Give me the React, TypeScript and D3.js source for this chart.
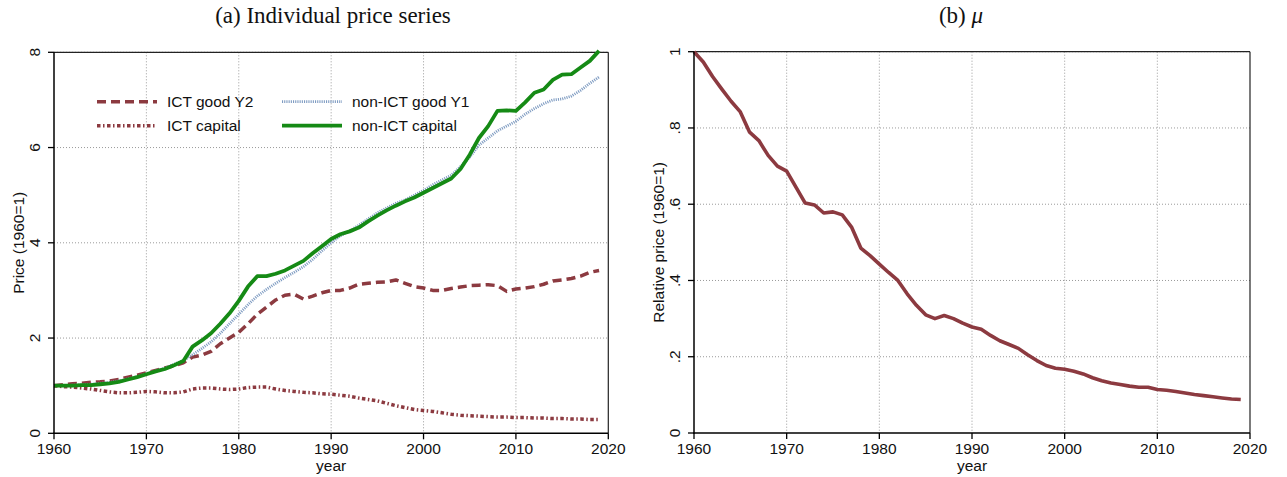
import React from 'react';
import { scaleLinear, line, range } from 'd3';

const years = range(1960, 2020);

const ictGoodY2 = [
  1.00, 1.02, 1.04, 1.05, 1.07, 1.08, 1.10, 1.13, 1.18, 1.22,
  1.27, 1.32, 1.37, 1.42, 1.48, 1.60, 1.64, 1.72, 1.88, 2.00,
  2.12, 2.30, 2.50, 2.65, 2.80, 2.90, 2.92, 2.82, 2.88, 2.95,
  3.00, 3.00, 3.05, 3.13, 3.15, 3.17, 3.18, 3.22, 3.15, 3.08,
  3.05, 3.00, 3.00, 3.04, 3.07, 3.10, 3.11, 3.12, 3.10, 2.98,
  3.03, 3.05, 3.08, 3.13, 3.20, 3.22, 3.25, 3.30, 3.38, 3.42,
];

const ictCapital = [
  1.00, 0.98, 0.97, 0.95, 0.93, 0.90, 0.87, 0.85, 0.85, 0.86,
  0.88, 0.87, 0.85, 0.85, 0.87, 0.93, 0.95, 0.95, 0.93, 0.92,
  0.93, 0.96, 0.97, 0.97, 0.93, 0.90, 0.88, 0.86, 0.85, 0.83,
  0.82, 0.80, 0.78, 0.74, 0.71, 0.68, 0.63, 0.58, 0.54, 0.50,
  0.48, 0.46, 0.43, 0.40, 0.38, 0.37, 0.36, 0.35, 0.34, 0.34,
  0.33, 0.33, 0.32, 0.32, 0.31, 0.31, 0.30, 0.30, 0.29, 0.29,
];

const nonIctGoodY1 = [
  1.00, 1.00, 1.01, 1.02, 1.03, 1.05, 1.07, 1.10, 1.14, 1.19,
  1.25, 1.31, 1.37, 1.45, 1.53, 1.65, 1.78, 1.92, 2.10, 2.30,
  2.50, 2.70, 2.88, 3.02, 3.15, 3.27, 3.38, 3.50, 3.65, 3.83,
  4.00, 4.15, 4.25, 4.37, 4.50, 4.63, 4.73, 4.83, 4.90, 5.00,
  5.10, 5.22, 5.32, 5.42, 5.60, 5.80, 6.05, 6.20, 6.35, 6.45,
  6.55, 6.70, 6.82, 6.92, 7.00, 7.02, 7.08, 7.20, 7.35, 7.48,
];

const nonIctCapital = [
  1.00, 1.00, 1.00, 1.01, 1.01, 1.03, 1.05, 1.08, 1.13, 1.18,
  1.24, 1.30, 1.35, 1.43, 1.52, 1.82, 1.95, 2.10, 2.30, 2.52,
  2.78, 3.08, 3.30, 3.30, 3.35, 3.42, 3.52, 3.62, 3.78, 3.93,
  4.08, 4.18, 4.24, 4.32, 4.45, 4.57, 4.68, 4.78, 4.87, 4.95,
  5.05, 5.15, 5.25, 5.35, 5.55, 5.85, 6.20, 6.45, 6.77, 6.78,
  6.77, 6.95, 7.15, 7.22, 7.42, 7.53, 7.54, 7.68, 7.82, 8.03,
];

const mu = [
  1.000, 0.973, 0.935, 0.902, 0.870, 0.842, 0.789, 0.767, 0.728, 0.700,
  0.687, 0.645, 0.603, 0.598, 0.577, 0.580, 0.572, 0.540, 0.485, 0.465,
  0.443, 0.421, 0.400, 0.365, 0.335, 0.310, 0.300, 0.308, 0.300, 0.288,
  0.278, 0.272, 0.256, 0.242, 0.232, 0.222, 0.205, 0.190, 0.177, 0.170,
  0.167, 0.162, 0.155, 0.145, 0.137, 0.131, 0.127, 0.123, 0.120, 0.120,
  0.114, 0.112, 0.109, 0.105, 0.101, 0.098, 0.095, 0.092, 0.089, 0.088,
];

const xTicks = [1960, 1970, 1980, 1990, 2000, 2010, 2020];
const leftTicks = [0, 2, 4, 6, 8];
const leftTickLabels = ['0', '2', '4', '6', '8'];
const rightTicks = [0, 0.2, 0.4, 0.6, 0.8, 1];
const rightTickLabels = ['0', '.2', '.4', '.6', '.8', '1'];

const MAROON = '#8c3a40';
const GREEN = '#158a15';
const LTBLUE = '#7f9cc2';
const SANS = '"Liberation Sans", Arial, sans-serif';
const SERIF = '"Liberation Serif", "Times New Roman", serif';

type Series = { name: string; values: number[]; color: string; width: number; dash?: string };

const leftSeries: Series[] = [
  { name: 'ICT good Y2', values: ictGoodY2, color: MAROON, width: 3.5, dash: '9 5' },
  { name: 'non-ICT good Y1', values: nonIctGoodY1, color: LTBLUE, width: 2.8, dash: '1.1 1.1' },
  { name: 'ICT capital', values: ictCapital, color: MAROON, width: 3.5, dash: '3.5 2.5 1.5 2.5' },
  { name: 'non-ICT capital', values: nonIctCapital, color: GREEN, width: 3.8 },
];

const legendOrder = [
  { s: 0, col: 0, row: 0 },
  { s: 1, col: 1, row: 0 },
  { s: 2, col: 0, row: 1 },
  { s: 3, col: 1, row: 1 },
];

interface PanelProps {
  x0: number; x1: number; y0: number; y1: number;
  yMax: number; yTicks: number[]; yTickLabels: string[];
  yTitle: string; yTitleX: number;
  children: (x: (v: number) => number, y: (v: number) => number) => React.ReactNode;
}

const Panel: React.FC<PanelProps> = ({ x0, x1, y0, y1, yMax, yTicks, yTickLabels, yTitle, yTitleX, children }) => {
  const x = scaleLinear().domain([1960, 2020]).range([x0, x1]);
  const y = scaleLinear().domain([0, yMax]).range([y1, y0]);
  const midY = (y0 + y1) / 2;
  return (
    <g>
      {/* grid */}
      {xTicks.slice(1, -1).map(t => (
        <line key={'gx' + t} x1={x(t)} x2={x(t)} y1={y0} y2={y1} stroke="#9a9a9a" strokeWidth={1} strokeDasharray="1 2" />
      ))}
      {yTicks.slice(1).map(t => (
        <line key={'gy' + t} x1={x0} x2={x1} y1={y(t)} y2={y(t)} stroke="#9a9a9a" strokeWidth={1} strokeDasharray="1 2" />
      ))}
      {/* frame */}
      <line x1={x0} x2={x1} y1={y0} y2={y0} stroke="#222" strokeWidth={1.2} />
      <line x1={x1} x2={x1} y1={y0} y2={y1} stroke="#222" strokeWidth={1.2} />
      <g>{children(x, y)}</g>
      {/* axes */}
      <line x1={x0} x2={x0} y1={y0} y2={y1 + 0.7} stroke="#000" strokeWidth={1.5} />
      <line x1={x0 - 0.7} x2={x1} y1={y1} y2={y1} stroke="#000" strokeWidth={1.5} />
      {xTicks.map(t => (
        <g key={'tx' + t}>
          <line x1={x(t)} x2={x(t)} y1={y1} y2={y1 + 6} stroke="#000" strokeWidth={1.3} />
          <text x={x(t)} y={454} textAnchor="middle" fontFamily={SANS} fontSize={15.5} fill="#111">{t}</text>
        </g>
      ))}
      {yTicks.map((t, i) => (
        <g key={'ty' + t}>
          <line x1={x0 - 6} x2={x0} y1={y(t)} y2={y(t)} stroke="#000" strokeWidth={1.3} />
          <text transform={`translate(${x0 - 14.5},${y(t)}) rotate(-90)`} textAnchor="middle"
            fontFamily={SANS} fontSize={15.5} fill="#111">{yTickLabels[i]}</text>
        </g>
      ))}
      <text x={(x0 + x1) / 2} y={471} textAnchor="middle" fontFamily={SANS} fontSize={15.5} fill="#111">year</text>
      <text transform={`translate(${yTitleX},${midY}) rotate(-90)`} textAnchor="middle"
        fontFamily={SANS} fontSize={15.5} fill="#111">{yTitle}</text>
    </g>
  );
};

export default function App() {
  return (
    <svg width={1287} height={477} style={{ position: 'absolute', left: 0, top: 0, background: '#fff' }}>
      <rect width={1287} height={477} fill="#fff" />
      <text x={333} y={23} textAnchor="middle" fontFamily={SERIF} fontSize={23} fill="#111">(a) Individual price series</text>
      <text x={961} y={23} textAnchor="middle" fontFamily={SERIF} fontSize={23} fill="#111">
        (b) <tspan fontStyle="italic">μ</tspan>
      </text>

      <Panel x0={54} x1={608.3} y0={52.3} y1={433.3} yMax={8} yTicks={leftTicks} yTickLabels={leftTickLabels}
        yTitle="Price (1960=1)" yTitleX={24}>
        {(x, y) => {
          const gen = line<number>().x((_, i) => x(years[i])).y(d => y(d));
          return (
            <g>
              {leftSeries.map(s => (
                <path key={s.name} d={gen(s.values) ?? ''} fill="none" stroke={s.color} strokeWidth={s.width}
                  strokeDasharray={s.dash} strokeLinejoin="round" />
              ))}
              {legendOrder.map(({ s, col, row }) => {
                const ser = leftSeries[s];
                const lx = col === 0 ? 97 : 282;
                const ly = row === 0 ? 101.7 : 125.7;
                return (
                  <g key={'lg' + ser.name}>
                    <line x1={lx} x2={lx + 60} y1={ly} y2={ly} stroke={ser.color} strokeWidth={ser.width}
                      strokeDasharray={ser.dash} />
                    <text x={lx + 70} y={ly + 5.5} fontFamily={SANS} fontSize={15.5} fill="#111">{ser.name}</text>
                  </g>
                );
              })}
            </g>
          );
        }}
      </Panel>

      <Panel x0={694} x1={1250} y0={51.7} y1={433} yMax={1} yTicks={rightTicks} yTickLabels={rightTickLabels}
        yTitle="Relative price (1960=1)" yTitleX={664}>
        {(x, y) => {
          const gen = line<number>().x((_, i) => x(years[i])).y(d => y(d));
          return <path d={gen(mu) ?? ''} fill="none" stroke={MAROON} strokeWidth={3.6} strokeLinejoin="round" />;
        }}
      </Panel>
    </svg>
  );
}
